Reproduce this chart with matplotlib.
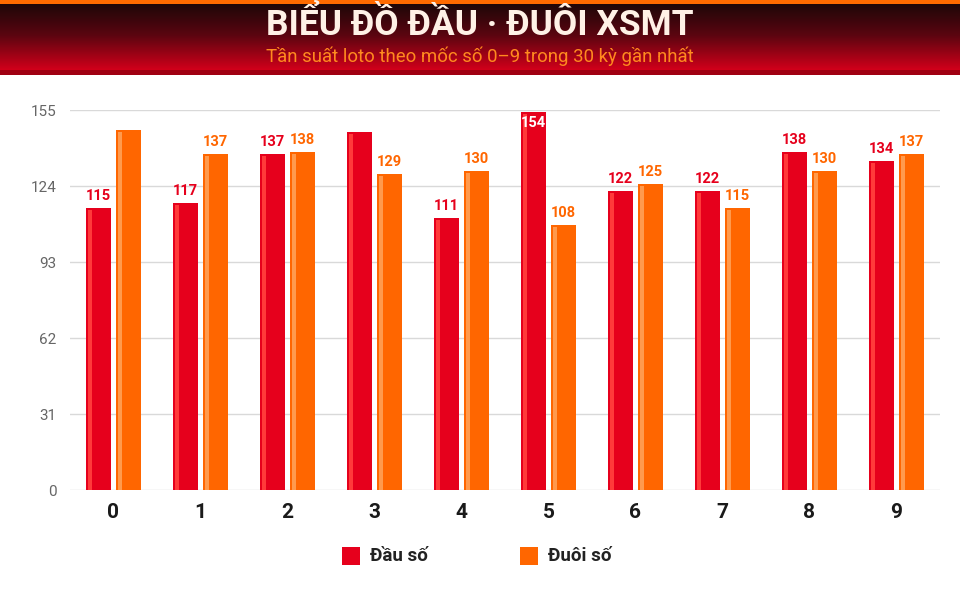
import numpy as np
import matplotlib
matplotlib.use("Agg")
import matplotlib.pyplot as plt
from matplotlib.colors import LinearSegmentedColormap

categories = ["0", "1", "2", "3", "4", "5", "6", "7", "8", "9"]
dau_so = [115, 117, 137, 146, 111, 154, 122, 122, 138, 134]
duoi_so = [147, 137, 138, 129, 130, 108, 125, 115, 130, 137]
y_ticks = [0, 31, 62, 93, 124, 155]
title = "BIỂU ĐỒ ĐẦU · ĐUÔI XSMT"
subtitle = "Tần suất loto theo mốc số 0–9 trong 30 kỳ gần nhất"
series_names = ["Đầu số", "Đuôi số"]

RED = "#e6001c"
RED_HI = "#ff3a3a"
ORANGE = "#ff6600"
ORANGE_HI = "#ff9a4d"

W, H = 960, 600
fig = plt.figure(figsize=(W / 100, H / 100), dpi=100)
fig.patch.set_facecolor("white")

def fx(px):
    return px / W

def fy(py):
    return 1 - py / H

# Header
hdr = fig.add_axes([0, fy(70), 1, 70 / H])
cmap = LinearSegmentedColormap.from_list("hdr", ["#160707", "#5a0510", "#d2001a"])
grad = np.linspace(0, 1, 256).reshape(-1, 1)
hdr.imshow(grad, aspect="auto", cmap=cmap, extent=[0, 1, 0, 1], origin="upper")
hdr.set_axis_off()
top_line = fig.add_axes([0, fy(4), 1, 4 / H])
top_line.set_facecolor("#ff6a00")
top_line.set_xticks([]); top_line.set_yticks([])
for s in top_line.spines.values():
    s.set_visible(False)
bot_line = fig.add_axes([0, fy(75), 1, 5 / H])
bot_line.set_facecolor("#a00012")
bot_line.set_xticks([]); bot_line.set_yticks([])
for s in bot_line.spines.values():
    s.set_visible(False)

fig.text(0.5, fy(25), title, ha="center", va="center", color="#fff1e6",
         fontsize=25.5, fontweight="bold",
         family=["Roboto", "DejaVu Sans"])
fig.text(0.5, fy(56), subtitle, ha="center", va="center", color="#ff8a1f",
         fontsize=13.4, family=["Roboto", "DejaVu Sans"])

# Plot area
ax = fig.add_axes([fx(70), fy(490), fx(870), 380 / H])
ax.set_xlim(-0.5, len(categories) - 0.5)
ax.set_ylim(0, 155)
for s in ax.spines.values():
    s.set_visible(False)
ax.set_yticks(y_ticks)
ax.set_yticklabels([str(v) for v in y_ticks], color="#666666", fontsize=11,
                   family=["Roboto", "DejaVu Sans"])
ax.tick_params(axis="y", length=0, pad=9.5)
ax.yaxis.grid(True, color="#d9d9d9", linewidth=1)
ax.set_axisbelow(True)
ax.set_xticks(range(len(categories)))
ax.set_xticklabels(categories, fontsize=15, fontweight="bold", color="#1a1a1a",
                   family=["Roboto", "DejaVu Sans"])
ax.tick_params(axis="x", length=0, pad=9)

px = 1 / 87.0
bw = 25 * px
gap = 5 * px
x = np.arange(len(categories))
xr = x - (bw + gap) / 2
xo = x + (bw + gap) / 2
upp = 155 / 380.0  # data units per pixel

ax.bar(xr, dau_so, width=bw, color=RED, zorder=2)
ax.bar(xo, duoi_so, width=bw, color=ORANGE, zorder=2)
# highlight stripes
hi_w = 4 * px
ax.bar(xr - bw / 2 + 1.5 * px, np.array(dau_so) - 2 * upp, width=hi_w, align="edge",
       color=RED_HI, zorder=3)
ax.bar(xo - bw / 2 + 1.5 * px, np.array(duoi_so) - 2 * upp, width=hi_w, align="edge",
       color=ORANGE_HI, zorder=3)

vmax = max(max(dau_so), max(duoi_so))
lab_font = dict(fontsize=10.5, fontweight="bold", family=["Roboto", "DejaVu Sans"])
for xs, vals, col in [(xr, dau_so, RED), (xo, duoi_so, ORANGE)]:
    for xi, v in zip(xs, vals):
        if v == vmax:
            ax.text(xi, v - 4 * upp, str(v), ha="center", va="top", color="white",
                    zorder=4, **lab_font)
        elif v <= 140:
            ax.text(xi, v + 5 * upp, str(v), ha="center", va="bottom", color=col,
                    zorder=4, **lab_font)

# Legend
leg_font = dict(fontsize=13.5, fontweight="bold", color="#222222",
                family=["Roboto", "DejaVu Sans"])
for (sx, name, col) in [(342, series_names[0], RED), (520, series_names[1], ORANGE)]:
    sq = fig.add_axes([fx(sx), fy(565), fx(18), 18 / H])
    sq.set_facecolor(col)
    sq.set_xticks([]); sq.set_yticks([])
    for s in sq.spines.values():
        s.set_visible(False)
    fig.text(fx(sx + 28), fy(556), name, ha="left", va="center", **leg_font)

fig.savefig("out.png", dpi=100, facecolor="white")
